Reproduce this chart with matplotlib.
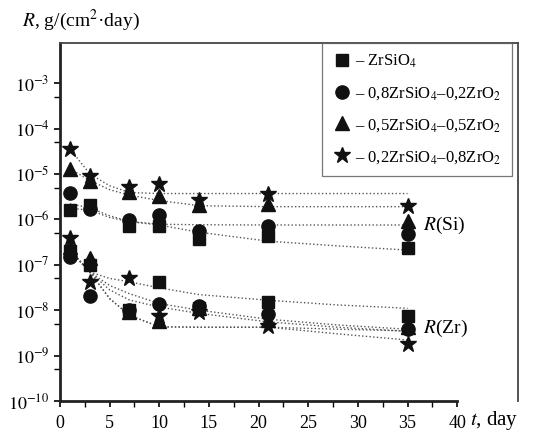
import numpy as np
import matplotlib
matplotlib.use('Agg')
import matplotlib.pyplot as plt
from matplotlib.ticker import FixedLocator, NullFormatter, FuncFormatter

plt.rcParams['font.family'] = ['Liberation Serif', 'DejaVu Serif']
plt.rcParams['mathtext.fontset'] = 'stix'

# measured points, t in days
t = [1, 3, 7, 10, 14, 21, 35]

si_zrsio4 = [1.6e-6, 2.1e-6, 7.2e-7, 7.0e-7, 3.7e-7, 4.4e-7, 2.3e-7]
si_82 = [3.8e-6, 1.7e-6, 9.8e-7, 1.26e-6, 5.6e-7, 7.2e-7, 4.8e-7]
si_55 = [1.3e-5, 7.0e-6, 4.0e-6, 3.3e-6, 2.1e-6, 2.2e-6, 9.3e-7]
si_28 = [3.5e-5, 9.0e-6, 5.1e-6, 6.0e-6, 2.7e-6, 3.6e-6, 1.95e-6]

zr_zrsio4 = [2.0e-7, 1.0e-7, 1.0e-8, 4.2e-8, 1.1e-8, 1.5e-8, 7.5e-9]
zr_82 = [1.5e-7, 2.1e-8, 1.0e-8, 1.35e-8, 1.25e-8, 8.2e-9, 3.8e-9]
zr_55 = [2.4e-7, 1.4e-7, 9.3e-9, 5.8e-9, 1.1e-8, 6.0e-9, 4.2e-9]
zr_28 = [3.9e-7, 4.1e-8, 5.2e-8, 7.4e-9, 8.9e-9, 4.5e-9, 1.8e-9]

# dotted trend lines
t_fit = [1, 3, 5, 7, 10, 14, 21, 28, 35]
fit_si = [
    [3.6e-5, 1.0e-5, 5.5e-6, 3.9e-6, 3.7e-6, 3.7e-6, 3.7e-6, 3.7e-6, 3.7e-6],
    [1.3e-5, 7.2e-6, 4.5e-6, 3.4e-6, 2.6e-6, 2.0e-6, 1.9e-6, 1.9e-6, 1.9e-6],
    [2.2e-6, 1.8e-6, 1.2e-6, 9.0e-7, 7.8e-7, 7.6e-7, 7.5e-7, 7.5e-7, 7.5e-7],
    [1.75e-6, 1.6e-6, 1.1e-6, 8.9e-7, 7.5e-7, 5.2e-7, 3.3e-7, 2.6e-7, 2.1e-7],
]
fit_zr = [
    [2.1e-7, 6.9e-8, 5.0e-8, 4.2e-8, 3.1e-8, 2.2e-8, 1.65e-8, 1.3e-8, 1.1e-8],
    [2.1e-7, 6.9e-8, 3.5e-8, 2.3e-8, 1.4e-8, 1.0e-8, 6.3e-9, 4.7e-9, 3.8e-9],
    [2.1e-7, 6.9e-8, 2.8e-8, 1.67e-8, 1.17e-8, 8.5e-9, 5.5e-9, 4.2e-9, 3.4e-9],
    [2.1e-7, 6.9e-8, 1.8e-8, 7.7e-9, 4.3e-9, 4.2e-9, 4.2e-9, 3.8e-9, 3.5e-9],
    [2.1e-7, 6.9e-8, 1.8e-8, 7.7e-9, 4.3e-9, 4.2e-9, 4.2e-9, 3.0e-9, 2.2e-9],
]

labels = ['– ZrSiO$_4$', '– 0,8ZrSiO$_4$–0,2ZrO$_2$',
          '– 0,5ZrSiO$_4$–0,5ZrO$_2$', '– 0,2ZrSiO$_4$–0,8ZrO$_2$']
markers = ['s', 'o', '^', '*']
sizes = [8.5, 9.5, 10, 12]

fig = plt.figure(figsize=(5.45, 4.45), dpi=100)
ax = fig.add_axes([0.110, 0.099, 0.840, 0.805])

for f in fit_si + fit_zr:
    ax.plot(t_fit, f, ':', color='#555555', lw=1.0, zorder=1)

si = [si_zrsio4, si_82, si_55, si_28]
zr = [zr_zrsio4, zr_82, zr_55, zr_28]
for k in range(4):
    ax.plot(t, si[k], linestyle='none', marker=markers[k], ms=sizes[k],
            color='#111111', label=labels[k], zorder=3)
    ax.plot(t, zr[k], linestyle='none', marker=markers[k], ms=sizes[k],
            color='#111111', zorder=3)

ax.set_yscale('log')
ax.set_xlim(0, 46.1)
ax.set_ylim(1e-10, 10 ** -2.11)

ax.xaxis.set_major_locator(FixedLocator(np.arange(0, 41, 5)))
ax.xaxis.set_minor_locator(FixedLocator(np.arange(2.5, 40, 5)))
ax.yaxis.set_major_locator(FixedLocator([10.0 ** e for e in range(-10, -2)]))
ax.yaxis.set_minor_locator(FixedLocator([5 * 10.0 ** e for e in range(-10, -3)]))
ax.yaxis.set_minor_formatter(NullFormatter())
ax.yaxis.set_major_formatter(FuncFormatter(
    lambda v, p: r'$10^{%d}$' % int(round(np.log10(v)))))

ax.tick_params(which='both', direction='out', labelsize=13)
ax.tick_params(which='major', length=4, width=1.2)
ax.tick_params(which='minor', length=4, width=1.0)
ax.tick_params(axis='x', pad=6)

ax.spines['left'].set_linewidth(2.0)
ax.spines['bottom'].set_linewidth(2.0)
ax.spines['bottom'].set_bounds(0, 40)
for s in ['left', 'bottom']:
    ax.spines[s].set_color('#222222')
for s in ['top', 'right']:
    ax.spines[s].set_linewidth(1.3)
    ax.spines[s].set_color('#444444')

leg = ax.legend(loc='upper right', bbox_to_anchor=(0.987, 1.0), fontsize=12,
                frameon=True, fancybox=False, handletextpad=0.2,
                labelspacing=0.9, borderpad=0.6, handlelength=1.2,
                borderaxespad=0.0)
leg.get_frame().set_edgecolor('#555555')
leg.get_frame().set_linewidth(0.9)

ax.text(36.6, 7.5e-7, '$R$(Si)', fontsize=14, va='center', ha='left')
ax.text(36.6, 4.0e-9, '$R$(Zr)', fontsize=14, va='center', ha='left')

fig.text(0.040, 0.955, r'$R$, g/(cm$^{2}$·day)', fontsize=14, ha='left', va='center')
fig.text(0.862, 0.054, '$t$, day', fontsize=15, ha='left', va='center')

fig.savefig('out.png', dpi=100)
